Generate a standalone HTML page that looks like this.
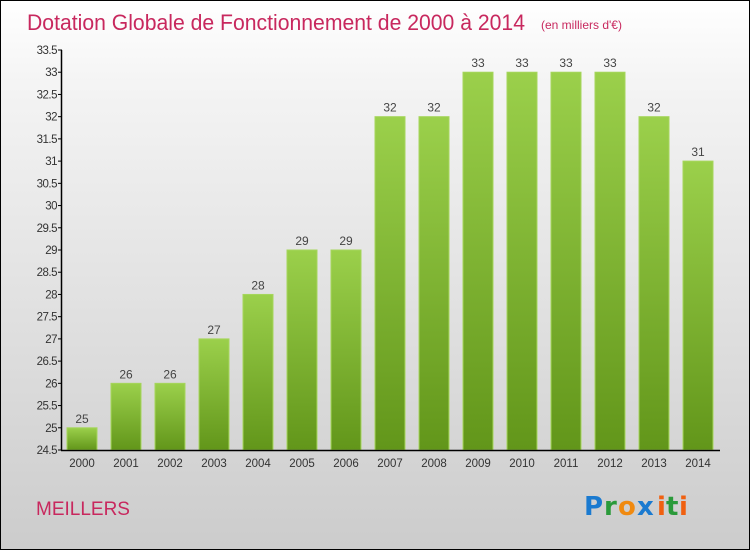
<!DOCTYPE html>
<html><head><meta charset="utf-8"><style>
body{margin:0}
#wrap{position:relative;width:748px;height:548px;border:1px solid #000;background:linear-gradient(#fff,#f4f4f4 15%,#ccc);font-family:"Liberation Sans",sans-serif;overflow:hidden}
</style></head><body>
<div id="wrap">
<svg id="svg" width="748" height="548" xmlns="http://www.w3.org/2000/svg">
<defs><linearGradient id="bg" x1="0" y1="0" x2="0" y2="1"><stop offset="0" stop-color="#9bd04b"/><stop offset="1" stop-color="#62961a"/></linearGradient></defs>
<text x="26" y="29" font-size="22" fill="#c8285e" textLength="498" lengthAdjust="spacingAndGlyphs">Dotation Globale de Fonctionnement de 2000 à 2014</text>
<text x="540" y="28" font-size="12" fill="#c8285e">(en milliers d'€)</text>
<text x="35" y="514" font-size="19" fill="#c8285e">MEILLERS</text>
<g font-size="26" font-weight="bold" font-family="'DejaVu Sans',sans-serif"><text x="583" y="514" fill="#1a7ad0">P</text><text x="603" y="514" fill="#2a9a3a">r</text><text x="617" y="514" fill="#f08a10">o</text><text x="636" y="514" fill="#1a7ad0">x</text><text x="656" y="514" fill="#f06010">i</text><text x="665" y="514" fill="#2a9a3a">t</text><text x="678" y="514" fill="#f06010">i</text></g>
<g id="plot"></g>
</svg></div>
<script>
const years=["2000","2001","2002","2003","2004","2005","2006","2007","2008","2009","2010","2011","2012","2013","2014"];
const values=[25,26,26,27,28,29,29,32,32,33,33,33,33,32,31];
const yTicks=[24.5,25,25.5,26,26.5,27,27.5,28,28.5,29,29.5,30,30.5,31,31.5,32,32.5,33,33.5];
const NS="http://www.w3.org/2000/svg";
const g=document.getElementById('plot');
const y=v=>449-(v-24.5)*(400/9);
const x=i=>66+44*i;
function mk(t,a){const e=document.createElementNS(NS,t);for(const k in a)e.setAttribute(k,a[k]);g.appendChild(e);return e;}
values.forEach((v,i)=>{
 const r=mk('rect',{x:x(i),y:y(v),width:30,height:449-y(v),fill:'url(#bg)',stroke:'#a6d65c','stroke-width':1});
 
 
 const t=mk('text',{x:x(i)+15,y:y(v)-5,'font-size':12,fill:'#444','text-anchor':'middle'});t.textContent=v;
 
 
 const l=mk('text',{x:x(i)+15,y:466,'font-size':11.5,fill:'#333','text-anchor':'middle'});l.textContent=years[i];
 
 
});
yTicks.forEach(v=>{
 mk('line',{x1:57,x2:61,y1:y(v),y2:y(v),stroke:'#000'});
 const t=mk('text',{x:56,y:y(v)+4,'font-size':11.5,fill:'#333','text-anchor':'end','letter-spacing':'-0.5'});t.textContent=v;
 
 
});
const ya=mk('line',{x1:60.5,x2:60.5,y1:y(33.5),y2:449.5,stroke:'#000','stroke-width':1.5});


const xa=mk('line',{x1:60,x2:719,y1:449.5,y2:449.5,stroke:'#000','stroke-width':1.5});


</script>
</body></html>
